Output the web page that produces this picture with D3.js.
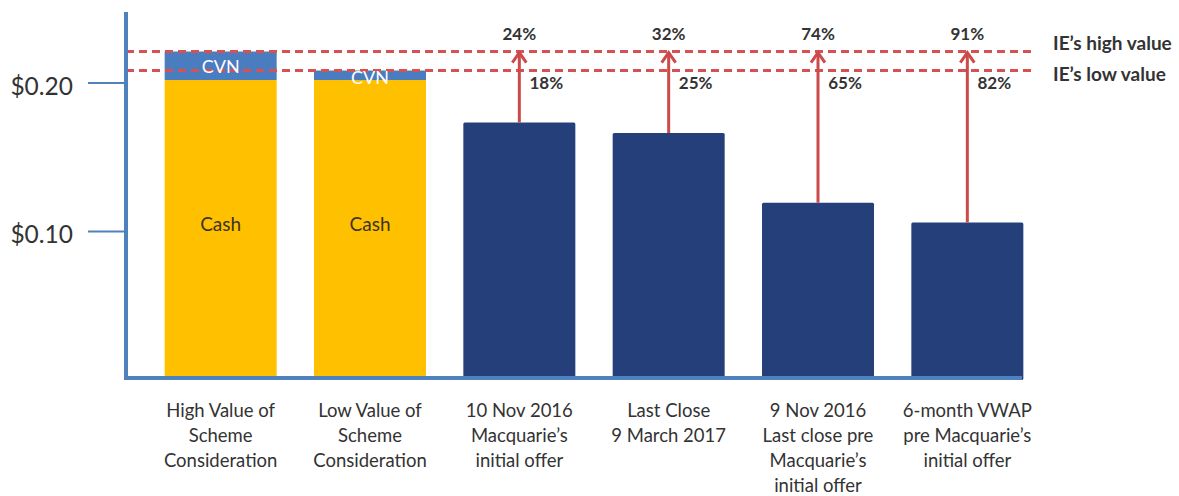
<!DOCTYPE html>
<html>
<head>
<meta charset="utf-8">
<script src="https://cdn.jsdelivr.net/npm/d3@7"></script>
<style>
  body { margin: 0; background: #fff; }
  text { font-family: Lato, "Open Sans", sans-serif; }
</style>
</head>
<body>
<svg id="chart"></svg>
<script>
// data
const categories = [
  ["High Value of", "Scheme", "Consideration"],
  ["Low Value of", "Scheme", "Consideration"],
  ["10 Nov 2016", "Macquarie\u2019s", "initial offer"],
  ["Last Close", "9 March 2017"],
  ["9 Nov 2016", "Last close pre", "Macquarie\u2019s", "initial offer"],
  ["6-month VWAP", "pre Macquarie\u2019s", "initial offer"]
];
const cashValues = [0.202, 0.202];
const cvnValues = [0.0192, 0.0064];
const priceValues = [null, null, 0.1734, 0.1663, 0.1194, 0.1061];
const ieHigh = 0.2212;
const ieLow = 0.2084;
const premiumHigh = ["24%", "32%", "74%", "91%"];
const premiumLow = ["18%", "25%", "65%", "82%"];
const yTicks = [0.10, 0.20];

const width = 1179, height = 496;
const svg = d3.select("#chart").attr("width", width).attr("height", height);

const x = d3.scaleBand().domain(d3.range(categories.length))
  .range([146, 1042]).paddingInner(0.25).paddingOuter(0.125);
const y = d3.scaleLinear().domain([0, 0.2]).range([380, 83]);

const axisX = 126;
const blue = "#4f81bd";

// stacked bars (cash + CVN)
cashValues.forEach((c, i) => {
  svg.append("rect")
    .attr("x", x(i)).attr("width", x.bandwidth())
    .attr("y", y(c)).attr("height", y(0) - y(c))
    .attr("fill", "#ffc000");
  svg.append("rect")
    .attr("x", x(i)).attr("width", x.bandwidth())
    .attr("y", y(c + cvnValues[i])).attr("height", y(c) - y(c + cvnValues[i]))
    .attr("fill", "#4a7cc0");
  svg.append("text")
    .attr("x", x(i) + x.bandwidth() / 2).attr("y", y(c / 2) - 7)
    .attr("text-anchor", "middle").attr("dominant-baseline", "central")
    .attr("font-size", 19).attr("fill", "#3c3320").text("Cash");
});

// price bars
const priceData = priceValues.map((v, i) => ({ v, i })).filter(d => d.v != null);
svg.selectAll(".price").data(priceData).enter().append("rect")
  .attr("class", "price")
  .attr("x", d => x(d.i)).attr("width", x.bandwidth())
  .attr("y", d => y(d.v)).attr("height", d => y(0) - y(d.v))
  .attr("rx", 1.5)
  .attr("fill", "#243f7a");

// IE dashed lines
[ieHigh, ieLow].forEach(v => {
  svg.append("line")
    .attr("x1", axisX).attr("x2", 1032)
    .attr("y1", y(v)).attr("y2", y(v))
    .attr("stroke", "#d65252").attr("stroke-width", 3)
    .attr("stroke-dasharray", "8,5");
});

// CVN labels on top of dashed lines
cashValues.forEach((c, i) => {
  svg.append("text")
    .attr("x", x(i) + x.bandwidth() / 2)
    .attr("y", y(c + cvnValues[i] / 2) + (i === 1 ? 2 : 0))
    .attr("text-anchor", "middle").attr("dominant-baseline", "central")
    .attr("font-size", 18).attr("fill", "#fff").text("CVN");
});

// arrows and premiums
priceData.forEach((d, k) => {
  const cx = x(d.i) + x.bandwidth() / 2;
  const top = y(ieHigh);
  svg.append("line")
    .attr("x1", cx).attr("x2", cx)
    .attr("y1", y(d.v)).attr("y2", top + 1)
    .attr("stroke", "#cc4a4a").attr("stroke-width", 3);
  svg.append("path")
    .attr("d", `M${cx - 7},${top + 11}L${cx},${top + 1}L${cx + 7},${top + 11}`)
    .attr("fill", "none").attr("stroke", "#cc4a4a").attr("stroke-width", 3);
  svg.append("text")
    .attr("x", cx).attr("y", 33)
    .attr("text-anchor", "middle").attr("dominant-baseline", "central")
    .attr("font-size", 17).attr("font-weight", "bold").attr("fill", "#333")
    .text(premiumHigh[k]);
  svg.append("text")
    .attr("x", cx + 27).attr("y", 82)
    .attr("text-anchor", "middle").attr("dominant-baseline", "central")
    .attr("font-size", 17).attr("font-weight", "bold").attr("fill", "#333")
    .text(premiumLow[k]);
});

// legend labels for the IE lines
svg.append("text").attr("x", 1053).attr("y", y(ieHigh) - 9)
  .attr("dominant-baseline", "central").attr("font-size", 19)
  .attr("font-weight", "bold").attr("fill", "#333").text("IE\u2019s high value");
svg.append("text").attr("x", 1053).attr("y", y(ieLow) + 3)
  .attr("dominant-baseline", "central").attr("font-size", 19)
  .attr("font-weight", "bold").attr("fill", "#333").text("IE\u2019s low value");

// y axis
svg.append("line")
  .attr("x1", axisX).attr("x2", axisX).attr("y1", 12).attr("y2", 380)
  .attr("stroke", blue).attr("stroke-width", 4);
yTicks.forEach(t => {
  svg.append("line")
    .attr("x1", 88).attr("x2", axisX).attr("y1", y(t)).attr("y2", y(t))
    .attr("stroke", blue).attr("stroke-width", 2);
  svg.append("text")
    .attr("x", 73).attr("y", y(t) + 2)
    .attr("text-anchor", "end").attr("dominant-baseline", "central")
    .attr("font-size", 24.5).attr("fill", "#333")
    .text(d3.format("$.2f")(t));
});

// x axis
svg.append("line")
  .attr("x1", axisX - 2).attr("x2", 1022).attr("y1", 378).attr("y2", 378)
  .attr("stroke", blue).attr("stroke-width", 4);

categories.forEach((lines, i) => {
  const t = svg.append("text")
    .attr("text-anchor", "middle").attr("font-size", 18.5).attr("fill", "#333");
  lines.forEach((ln, j) => {
    t.append("tspan")
      .attr("x", x(i) + x.bandwidth() / 2)
      .attr("y", 417 + j * 25)
      .text(ln);
  });
});
</script>
</body>
</html>
